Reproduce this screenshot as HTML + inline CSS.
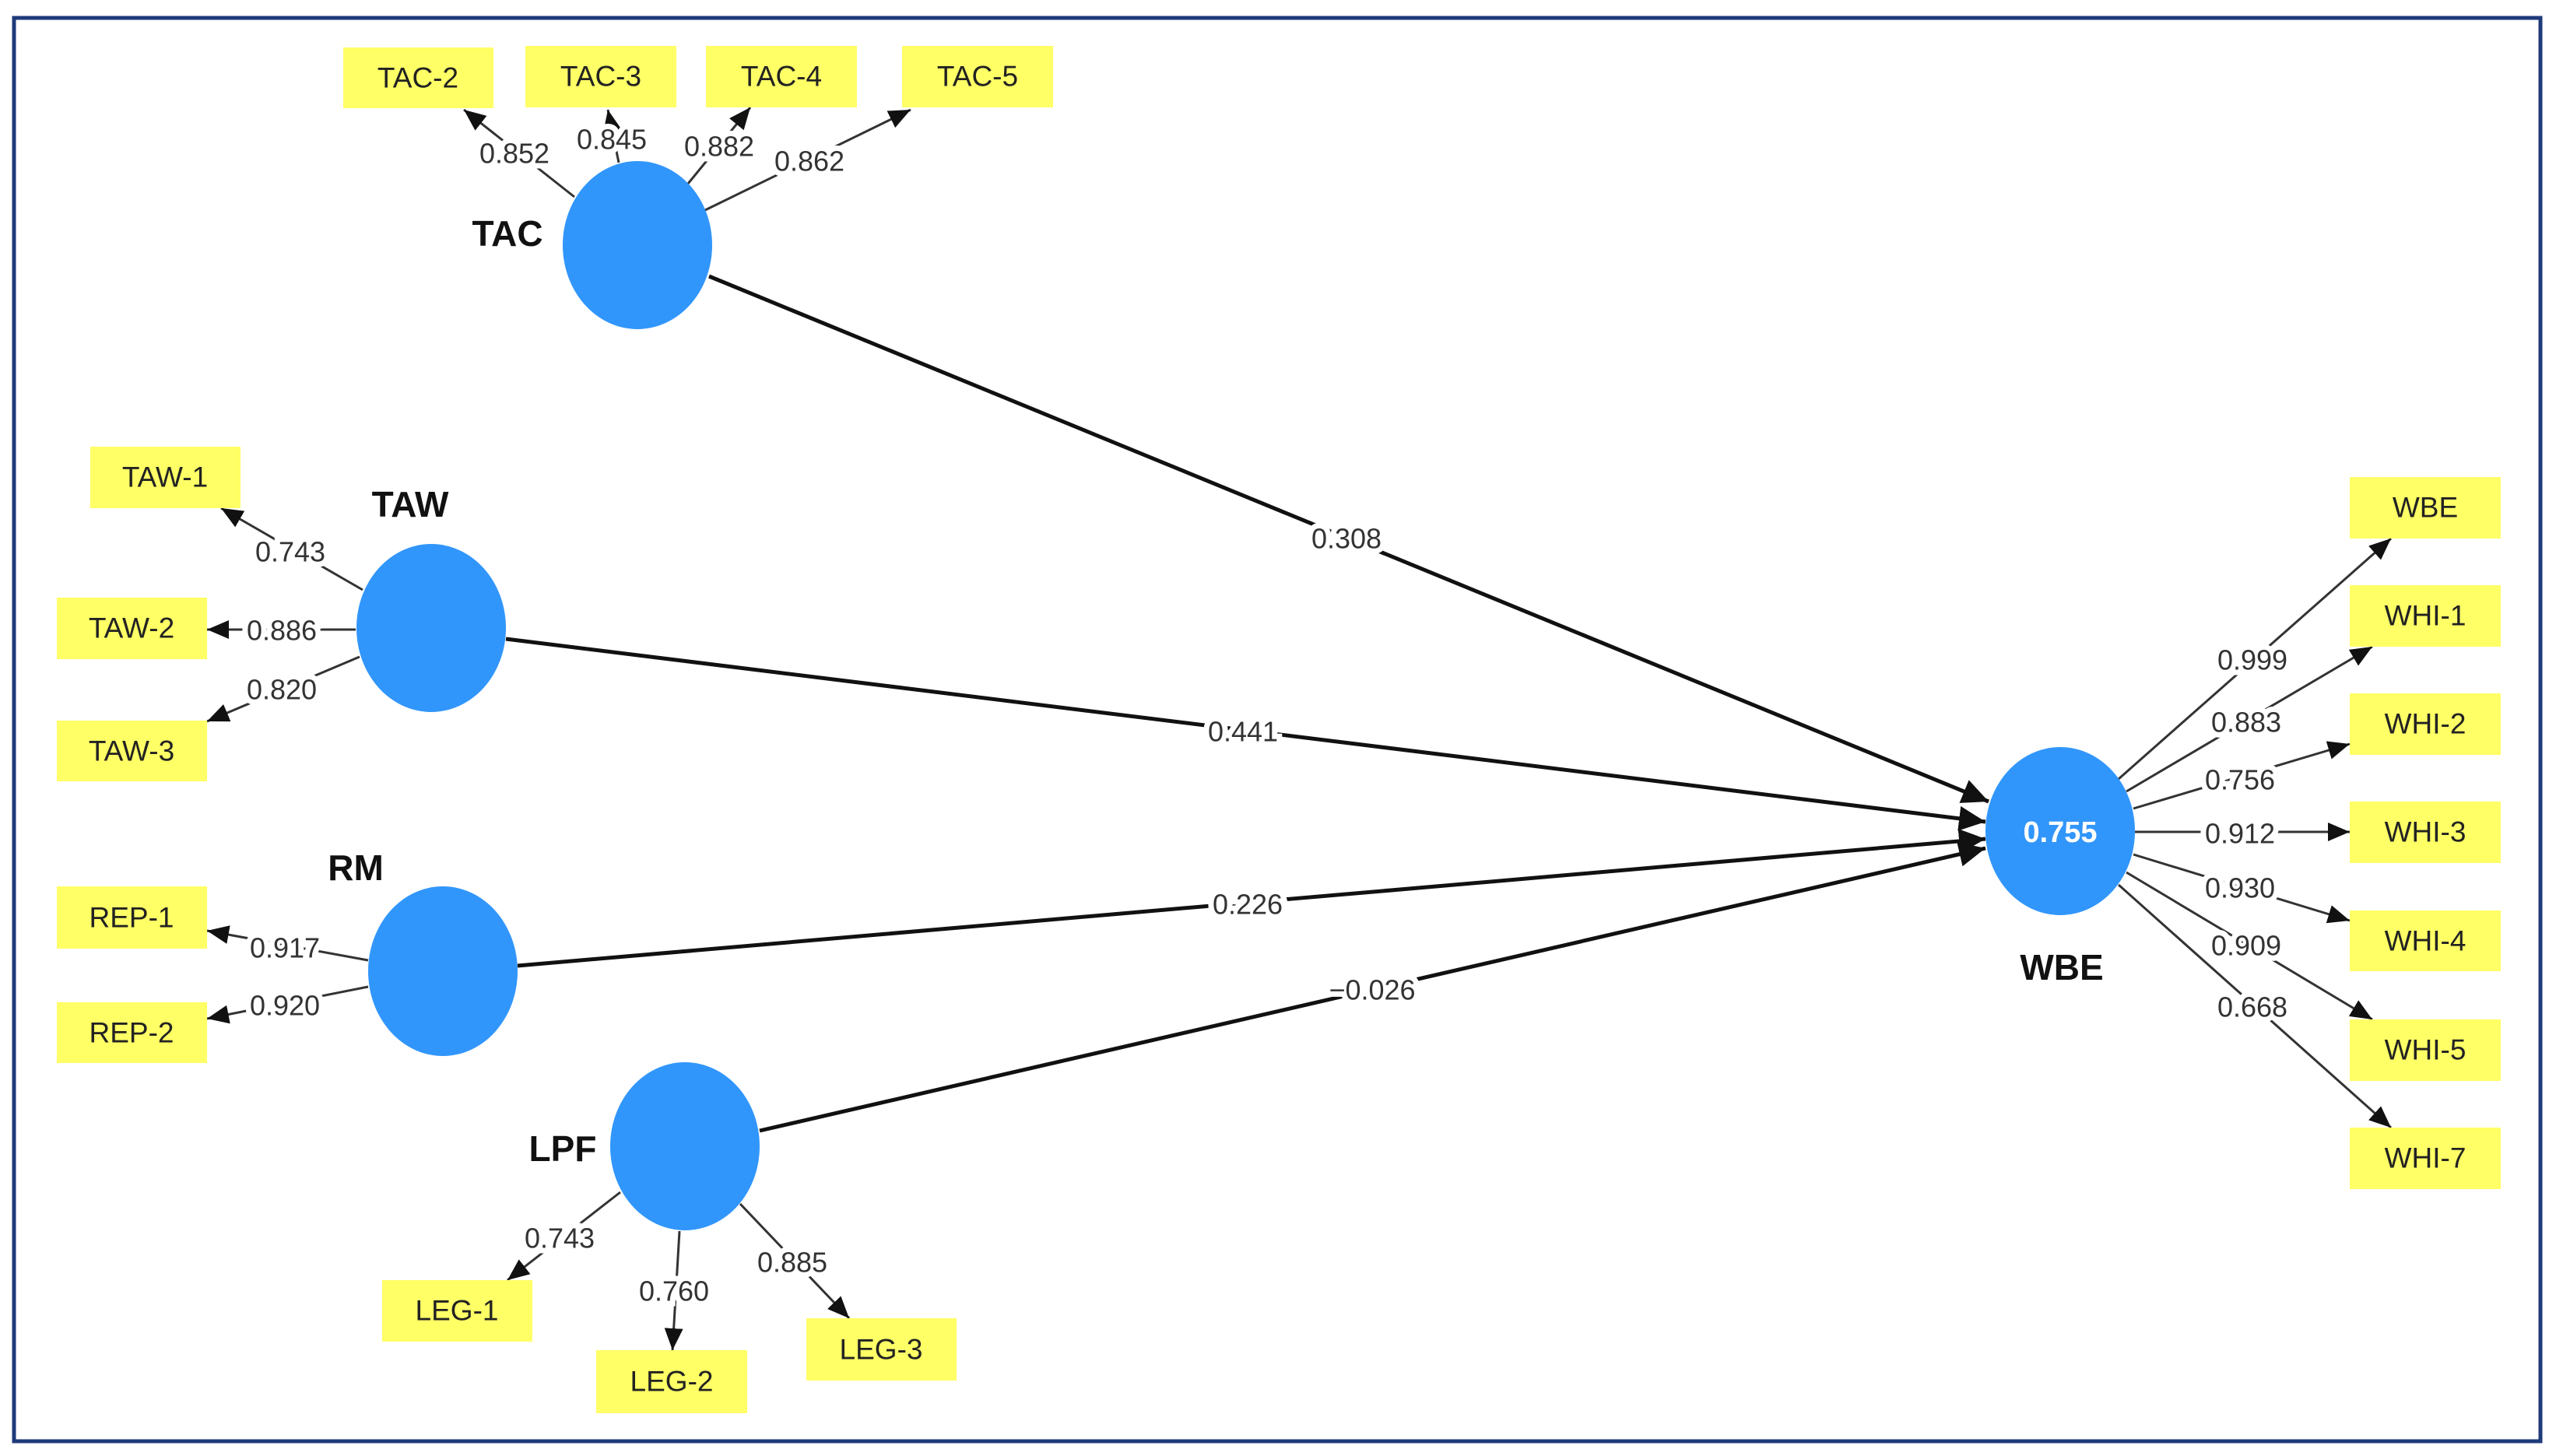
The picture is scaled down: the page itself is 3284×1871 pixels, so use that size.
<!DOCTYPE html>
<html><head><meta charset="utf-8"><style>
html,body{margin:0;padding:0;background:#fff;}
svg{display:block;}
.box{fill:#ffff66;}
.bt{font-family:"Liberation Sans",sans-serif;font-size:37px;fill:#222;text-anchor:middle;dominant-baseline:central;}
.lv{font-family:"Liberation Sans",sans-serif;font-size:36px;fill:#333;text-anchor:middle;dominant-baseline:central;stroke:#fff;stroke-width:14px;paint-order:stroke;}
.nl{font-family:"Liberation Sans",sans-serif;font-size:46px;font-weight:bold;fill:#111;text-anchor:middle;dominant-baseline:central;}
.ld{stroke:#333;stroke-width:3;fill:none;marker-end:url(#a2);}
.st{stroke:#111;stroke-width:5;fill:none;marker-end:url(#a1);}
</style></head><body>
<svg width="3284" height="1871" viewBox="0 0 3284 1871" xmlns="http://www.w3.org/2000/svg">
<defs>
<marker id="a1" markerUnits="userSpaceOnUse" markerWidth="40" markerHeight="40" refX="34" refY="16" orient="auto"><path d="M0,0 L34,16 L0,32 Z" fill="#111"/></marker>
<marker id="a2" markerUnits="userSpaceOnUse" markerWidth="34" markerHeight="34" refX="28" refY="12" orient="auto"><path d="M0,0 L28,12 L0,24 Z" fill="#111"/></marker>
</defs>
<rect x="18" y="23" width="3246" height="1829" fill="#fff" stroke="#1f3a7a" stroke-width="5"/>

<!-- structural paths -->
<line class="st" x1="911" y1="355" x2="2555" y2="1030"/>
<line class="st" x1="650" y1="821" x2="2551" y2="1056"/>
<line class="st" x1="665" y1="1241" x2="2551" y2="1078"/>
<line class="st" x1="976" y1="1453" x2="2551" y2="1090"/>
<text class="lv" x="1730" y="692">0.308</text>
<text class="lv" x="1597" y="940">0.441</text>
<text class="lv" x="1603" y="1162">0.226</text>
<text class="lv" x="1763" y="1272">−0.026</text>

<!-- loadings -->
<line class="ld" x1="738" y1="253" x2="596" y2="141"/>
<line class="ld" x1="795" y1="209" x2="781" y2="141"/>
<line class="ld" x1="884" y1="236" x2="964" y2="138"/>
<line class="ld" x1="906" y1="270" x2="1170" y2="141"/>
<line class="ld" x1="466" y1="758" x2="284" y2="653"/>
<line class="ld" x1="457" y1="809" x2="266" y2="809"/>
<line class="ld" x1="462" y1="844" x2="266" y2="927"/>
<line class="ld" x1="473" y1="1234" x2="266" y2="1196"/>
<line class="ld" x1="473" y1="1268" x2="266" y2="1309"/>
<line class="ld" x1="797" y1="1532" x2="652" y2="1645"/>
<line class="ld" x1="873" y1="1582" x2="864" y2="1735"/>
<line class="ld" x1="951" y1="1547" x2="1091" y2="1694"/>
<line class="ld" x1="2722" y1="1001" x2="3072" y2="692"/>
<line class="ld" x1="2732" y1="1017" x2="3048" y2="831"/>
<line class="ld" x1="2741" y1="1039" x2="3019" y2="956"/>
<line class="ld" x1="2743" y1="1069" x2="3019" y2="1069"/>
<line class="ld" x1="2741" y1="1098" x2="3019" y2="1183"/>
<line class="ld" x1="2732" y1="1121" x2="3048" y2="1310"/>
<line class="ld" x1="2722" y1="1137" x2="3072" y2="1449"/>

<text class="lv" x="661" y="197">0.852</text>
<text class="lv" x="786" y="179">0.845</text>
<text class="lv" x="924" y="188">0.882</text>
<text class="lv" x="1040" y="207">0.862</text>
<text class="lv" x="373" y="709">0.743</text>
<text class="lv" x="362" y="810">0.886</text>
<text class="lv" x="362" y="886">0.820</text>
<text class="lv" x="366" y="1218">0.917</text>
<text class="lv" x="366" y="1292">0.920</text>
<text class="lv" x="719" y="1591">0.743</text>
<text class="lv" x="866" y="1659">0.760</text>
<text class="lv" x="1018" y="1622">0.885</text>
<text class="lv" x="2894" y="848">0.999</text>
<text class="lv" x="2886" y="928">0.883</text>
<text class="lv" x="2878" y="1002">0.756</text>
<text class="lv" x="2878" y="1071">0.912</text>
<text class="lv" x="2878" y="1141">0.930</text>
<text class="lv" x="2886" y="1215">0.909</text>
<text class="lv" x="2894" y="1294">0.668</text>

<!-- latent nodes -->
<ellipse cx="819" cy="315" rx="96" ry="108" fill="#3196fb"/>
<ellipse cx="554" cy="807" rx="96" ry="108" fill="#3196fb"/>
<ellipse cx="569" cy="1248" rx="96" ry="109" fill="#3196fb"/>
<ellipse cx="880" cy="1473" rx="96" ry="108" fill="#3196fb"/>
<ellipse cx="2647" cy="1068" rx="96" ry="108" fill="#3196fb"/>
<text x="2647" y="1070" style="font-family:'Liberation Sans',sans-serif;font-size:38px;font-weight:bold;fill:#fff;text-anchor:middle;dominant-baseline:central;">0.755</text>

<text class="nl" x="652" y="300">TAC</text>
<text class="nl" x="527" y="648">TAW</text>
<text class="nl" x="457" y="1115">RM</text>
<text class="nl" x="723" y="1476">LPF</text>
<text class="nl" x="2649" y="1243">WBE</text>

<!-- indicator boxes -->
<rect class="box" x="441" y="61" width="193" height="78"/><text class="bt" x="537" y="100">TAC-2</text>
<rect class="box" x="675" y="59" width="194" height="79"/><text class="bt" x="772" y="98">TAC-3</text>
<rect class="box" x="907" y="59" width="194" height="79"/><text class="bt" x="1004" y="98">TAC-4</text>
<rect class="box" x="1159" y="59" width="194" height="79"/><text class="bt" x="1256" y="98">TAC-5</text>
<rect class="box" x="116" y="574" width="193" height="79"/><text class="bt" x="212" y="613">TAW-1</text>
<rect class="box" x="73" y="768" width="193" height="79"/><text class="bt" x="169" y="807">TAW-2</text>
<rect class="box" x="73" y="926" width="193" height="78"/><text class="bt" x="169" y="965">TAW-3</text>
<rect class="box" x="73" y="1139" width="193" height="80"/><text class="bt" x="169" y="1179">REP-1</text>
<rect class="box" x="73" y="1288" width="193" height="78"/><text class="bt" x="169" y="1327">REP-2</text>
<rect class="box" x="491" y="1645" width="193" height="79"/><text class="bt" x="587" y="1684">LEG-1</text>
<rect class="box" x="766" y="1735" width="194" height="81"/><text class="bt" x="863" y="1775">LEG-2</text>
<rect class="box" x="1036" y="1694" width="193" height="80"/><text class="bt" x="1132" y="1734">LEG-3</text>
<rect class="box" x="3019" y="613" width="194" height="79"/><text class="bt" x="3116" y="652">WBE</text>
<rect class="box" x="3019" y="752" width="194" height="79"/><text class="bt" x="3116" y="791">WHI-1</text>
<rect class="box" x="3019" y="891" width="194" height="79"/><text class="bt" x="3116" y="930">WHI-2</text>
<rect class="box" x="3019" y="1030" width="194" height="79"/><text class="bt" x="3116" y="1069">WHI-3</text>
<rect class="box" x="3019" y="1170" width="194" height="78"/><text class="bt" x="3116" y="1209">WHI-4</text>
<rect class="box" x="3019" y="1310" width="194" height="79"/><text class="bt" x="3116" y="1349">WHI-5</text>
<rect class="box" x="3019" y="1449" width="194" height="79"/><text class="bt" x="3116" y="1488">WHI-7</text>
</svg>
</body></html>
